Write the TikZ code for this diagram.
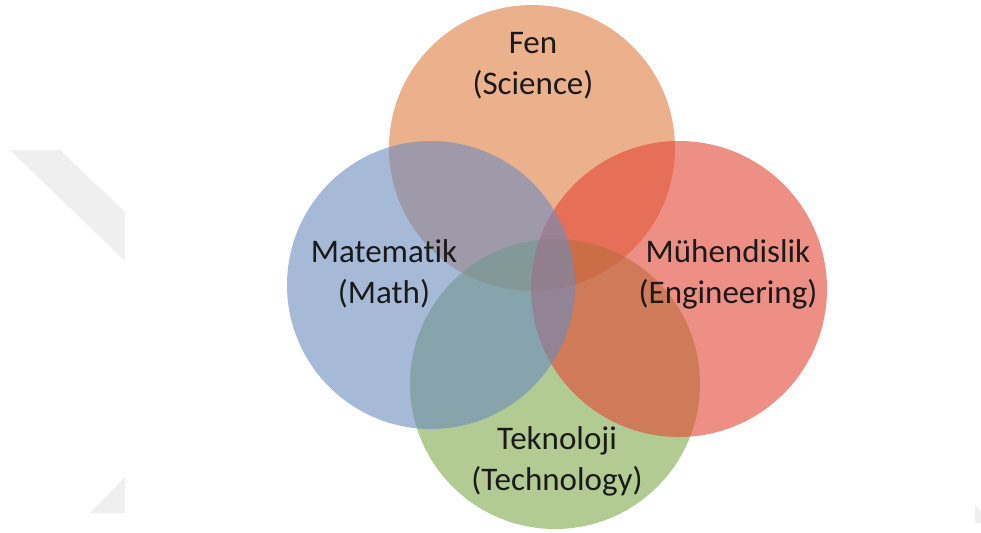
\documentclass[tikz,border=0pt]{standalone}
\usepackage{fontspec}
\setmainfont[Ligatures=NoCommon]{Carlito}
\usetikzlibrary{positioning}
\definecolor{SciOrange}{HTML}{DE7B3F}
\definecolor{TechGreen}{HTML}{7FA849}
\definecolor{EngRed}{HTML}{E34434}
\definecolor{MathBlue}{HTML}{6B8CBE}
\definecolor{MarkGray}{HTML}{EFEFEF}
\definecolor{DarkText}{HTML}{1A1A1A}

\tikzset{
  setdisc/.style={circle, draw=none, inner sep=0pt, fill opacity=0.6},
  setlabel/.style={align=center, text=DarkText,
                   font=\fontsize{16.5}{20.5}\selectfont}
}

\begin{document}
\begin{tikzpicture}[x=0.5pt, y=-0.5pt]
        \useasboundingbox (0,0) rectangle (981,532);

        % faint chevron marks at the edges
        \fill[MarkGray] (10,150) -- (60,150) -- (125,212) -- (125,261) -- cycle;
        \fill[MarkGray] (90,513) -- (125,477) -- (125,513) -- cycle;
        \fill[MarkGray] (975,505) -- (981,512) -- (981,523) -- (975,523) -- cycle;

        % the four sets, later ones lie on top
        \node[setdisc, fill=SciOrange, minimum size=143pt] (sci) at (532,148) {};
        \node[setdisc, fill=TechGreen, minimum size=145pt] (tech) at (555,384) {};
        \node[setdisc, fill=EngRed, minimum size=148pt] (eng) at (679,289) {};
        \node[setdisc, fill=MathBlue, minimum size=144pt] (math) at (431,285) {};

        % labels
        \node[setlabel] (scilbl) at (533,66) {Fen\\(Science)};
        \node[setlabel] (mathlbl) at (384,274) {Matematik\\(Math)};
        \node[setlabel] (englbl) at (728,274) {Mühendislik\\(Engineering)};
        \node[setlabel] (techlbl) at (557,461) {Teknoloji\\(Technology)};
      \end{tikzpicture}
\end{document}
